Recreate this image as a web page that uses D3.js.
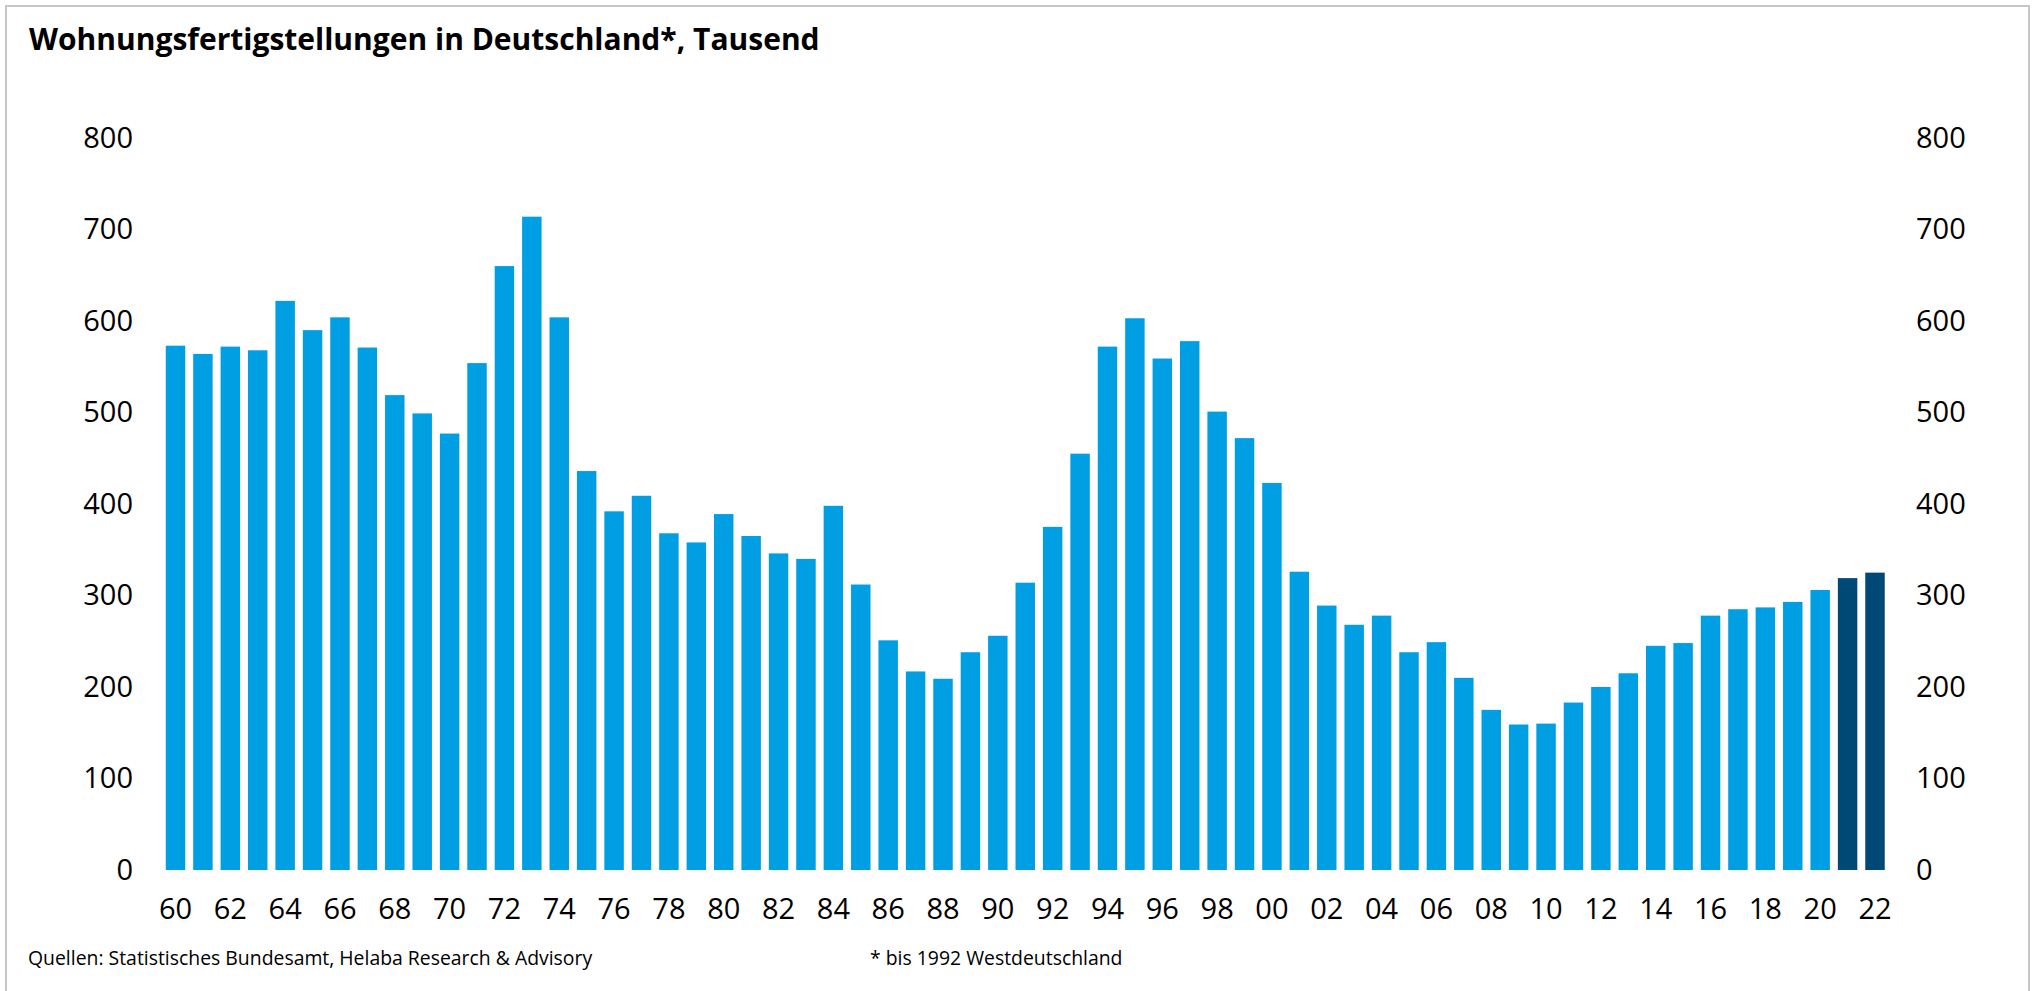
<!DOCTYPE html>
<html>
<head>
<meta charset="utf-8">
<script src="https://cdn.jsdelivr.net/npm/d3@7"></script>
<style>
  body { margin: 0; background: #fff; }
  svg { display: block; font-family: "Open Sans", sans-serif; }
  .tick text { fill: #000; }
</style>
</head>
<body>
<svg id="chart" width="2032" height="991"></svg>
<script>
// years 1960..2022, thousands of completed dwellings
const years = d3.range(1960, 2023);
const values = [
  573, 564, 572, 568, 622, 590, 604, 571, 519, 499,
  477, 554, 660, 714, 604, 436, 392, 409, 368, 358,
  389, 365, 346, 340, 398, 312, 251, 217, 209, 238,
  256, 314, 375, 455, 572, 603, 559, 578, 501, 472,
  423, 326, 289, 268, 278, 238, 249, 210, 175, 159,
  160, 183, 200, 215, 245, 248, 278, 285, 287, 293,
  306, 319, 325
];
const highlighted = [2021, 2022];
const yTicks = [0, 100, 200, 300, 400, 500, 600, 700, 800];

const title = "Wohnungsfertigstellungen in Deutschland*, Tausend";
const source = "Quellen: Statistisches Bundesamt, Helaba Research & Advisory";
const note = "* bis 1992 Westdeutschland";

const svg = d3.select("#chart");

// frame
svg.append("rect")
  .attr("x", 6).attr("y", 6)
  .attr("width", 2023).attr("height", 1000)
  .attr("fill", "none")
  .attr("stroke", "#c6c6c6")
  .attr("stroke-width", 2);

const x = d3.scaleBand()
  .domain(years)
  .range([161.8, 1888.7])
  .paddingInner(0.29)
  .paddingOuter(0.145);

const y = d3.scaleLinear().domain([0, 800]).range([870, 138]);

/* --- bars --- */
svg.append("g")
  .selectAll("rect")
  .data(years.map((yr, i) => ({ yr, v: values[i] })))
  .join("rect")
  .attr("x", (d) => x(d.yr))
  .attr("width", x.bandwidth())
  .attr("y", (d) => y(d.v))
  .attr("height", (d) => y(0) - y(d.v))
  .attr("fill", (d) => (highlighted.includes(d.yr) ? "#004875" : "#009fe3"));

/* --- axes --- */
const fmtYear = (d) => String(d % 100).padStart(2, "0");

const xAxis = svg.append("g")
  .attr("transform", "translate(0,890)")
  .call(d3.axisBottom(x)
    .tickValues(years.filter((d) => d % 2 === 0))
    .tickFormat(fmtYear)
    .tickSize(0)
    .tickPadding(8));

const yLeft = svg.append("g")
  .attr("transform", "translate(139,0)")
  .call(d3.axisLeft(y).tickValues(yTicks).tickSize(0).tickPadding(6));

const yRight = svg.append("g")
  .attr("transform", "translate(1910,0)")
  .call(d3.axisRight(y).tickValues(yTicks).tickSize(0).tickPadding(6));

[xAxis, yLeft, yRight].forEach((g) => {
  g.select(".domain").remove();
  g.selectAll("text")
    .attr("font-size", 29)
    .attr("font-family", "'Open Sans', sans-serif");
});

/* --- texts --- */
svg.append("text")
  .attr("x", 29).attr("y", 50)
  .attr("font-size", 30)
  .attr("font-weight", "bold")
  .attr("fill", "#000")
  .text(title);

svg.append("text")
  .attr("x", 28).attr("y", 965)
  .attr("font-size", 19.4)
  .attr("fill", "#000")
  .text(source);

svg.append("text")
  .attr("x", 870).attr("y", 965)
  .attr("font-size", 19.4)
  .attr("fill", "#000")
  .text(note);
</script>
</body>
</html>
